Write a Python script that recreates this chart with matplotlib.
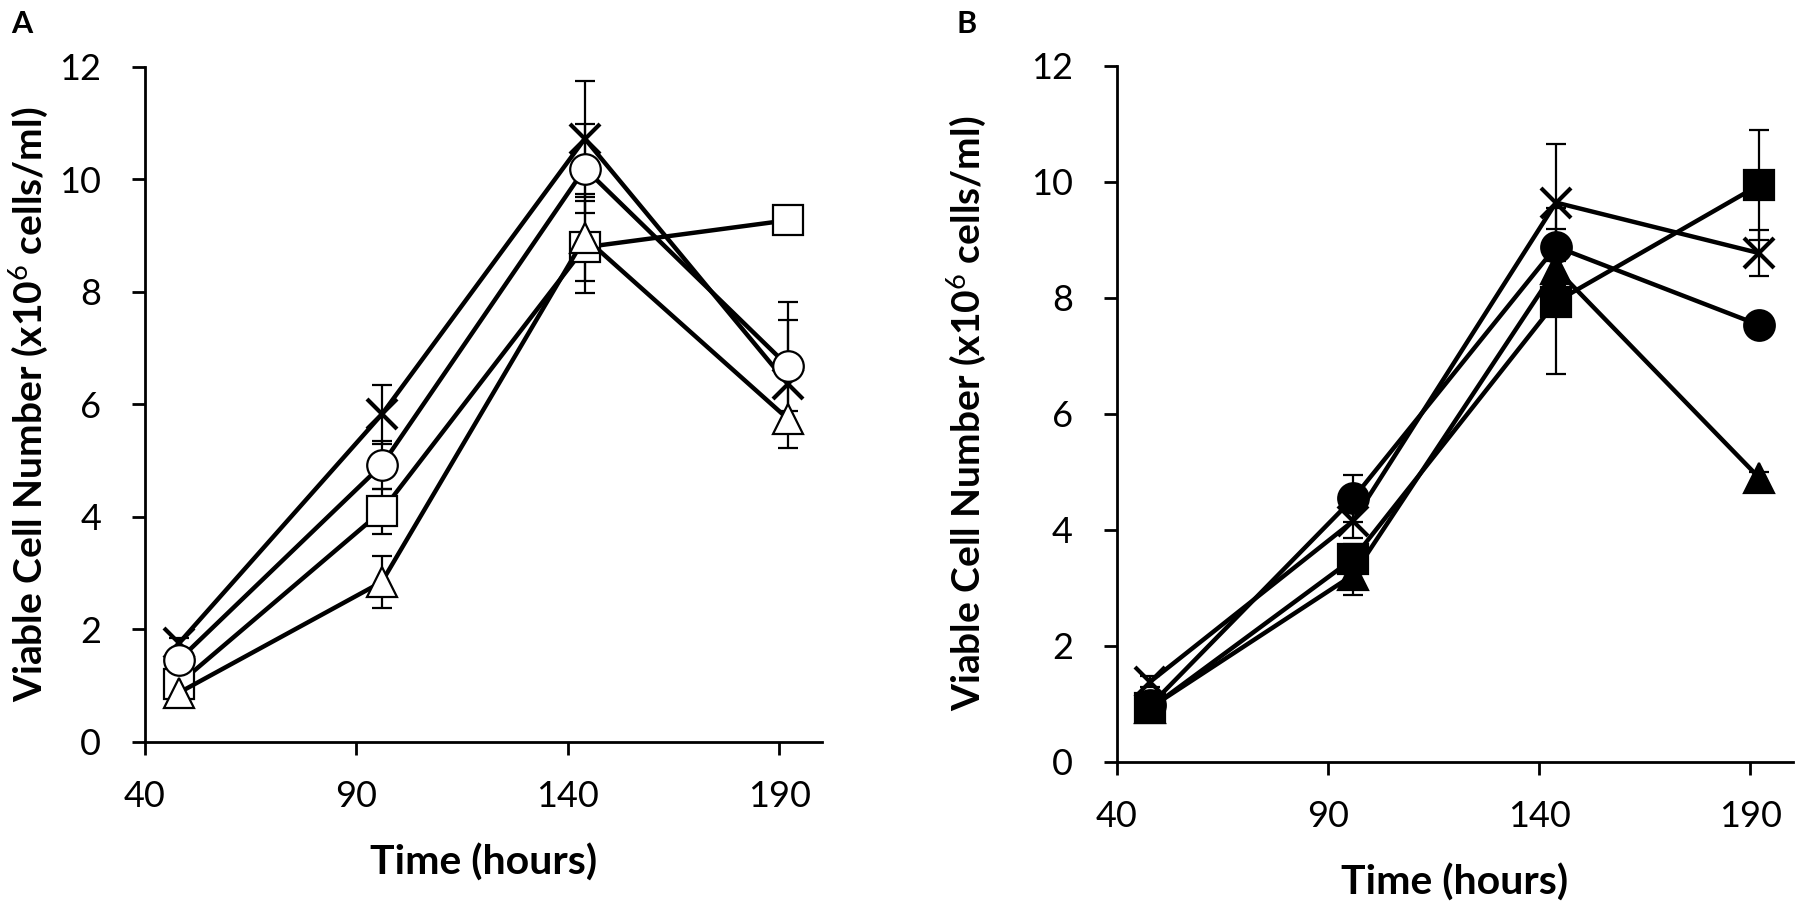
import numpy as np
import matplotlib
matplotlib.use("Agg")
import matplotlib.pyplot as plt

plt.rcParams['font.family'] = ['Lato', 'DejaVu Sans']
plt.rcParams['mathtext.fontset'] = 'custom'
plt.rcParams['mathtext.rm'] = 'Lato'
plt.rcParams['mathtext.bf'] = 'Lato:bold'

# time points (hours)
hours = [48, 96, 144, 192]

# panel A (open markers)
a_cross = [1.75, 5.82, 10.72, 6.36]
a_cross_err = [0.1, 0.52, 1.03, 1.14]
a_circle = [1.45, 4.92, 10.19, 6.68]
a_circle_err = [0.1, 0.42, 0.79, 1.14]
a_square = [1.03, 4.10, 8.79, 9.27]
a_square_err = [0.1, 0.40, 0.82, 0.03]
a_triangle = [0.87, 2.84, 8.96, 5.74]
a_triangle_err = [0.05, 0.47, 0.77, 0.14]

# panel B (filled markers)
b_cross = [1.38, 4.15, 9.64, 8.77]
b_cross_err = [0.1, 0.3, 1.01, 0.4]
b_circle = [0.97, 4.54, 8.88, 7.53]
b_circle_err = [0.1, 0.40, 0.66, 0.1]
b_square = [0.92, 3.50, 7.93, 9.94]
b_square_err = [0.1, 0.26, 1.25, 0.95]
b_triangle = [0.93, 3.22, 8.50, 4.90]
b_triangle_err = [0.05, 0.35, 0.40, 0.1]

xticks = [40, 90, 140, 190]
yticks = [0, 2, 4, 6, 8, 10, 12]

W, H = 1799, 913
fig = plt.figure(figsize=(W / 100, H / 100), dpi=100)
axA = fig.add_axes([145 / W, 1 - 741.7 / H, 676.7 / W, 675 / H])
axB = fig.add_axes([1116.5 / W, 1 - 761.7 / H, 676.2 / W, 696 / H])


def draw(ax, y, e, marker, filled, ms):
    ax.errorbar(hours, y, yerr=e, fmt='none', ecolor='black', elinewidth=1.6,
                capsize=7, capthick=1.6, zorder=2)
    ax.plot(hours, y, color='black', lw=3.2, marker=marker, ms=ms,
            mfc='black' if filled else 'white', mec='black',
            mew=3.0 if marker == 'x' else 1.6, zorder=3)


def style(ax, ylabelpad):
    ax.set_xlim(40, 200)
    ax.set_ylim(0, 12)
    ax.set_xticks(xticks)
    ax.set_yticks(yticks)
    for s in ['top', 'right']:
        ax.spines[s].set_visible(False)
    for s in ['left', 'bottom']:
        ax.spines[s].set_linewidth(2)
    ax.tick_params(direction='out', length=9.5, width=2, labelsize=26)
    ax.tick_params(axis='x', pad=18)
    ax.tick_params(axis='y', pad=22)
    ax.set_xlabel('Time (hours)', fontsize=29.5, fontweight='bold', labelpad=22)
    ax.set_ylabel(r'Viable Cell Number (x10$^{6}$ cells/ml)', fontsize=28,
                  fontweight='bold', labelpad=ylabelpad)


draw(axA, a_cross, a_cross_err, 'x', False, 22)
draw(axA, a_square, a_square_err, 's', False, 21)
draw(axA, a_triangle, a_triangle_err, '^', False, 22)
draw(axA, a_circle, a_circle_err, 'o', False, 22)
style(axA, 6)

draw(axB, b_cross, b_cross_err, 'x', True, 22)
draw(axB, b_triangle, b_triangle_err, '^', True, 22)
draw(axB, b_circle, b_circle_err, 'o', True, 22)
draw(axB, b_square, b_square_err, 's', True, 21)
style(axB, 30)

fig.text(11 / W, 1 - 10 / H, 'A', fontsize=22, fontweight='bold', va='top')
fig.text(957 / W, 1 - 10 / H, 'B', fontsize=22, fontweight='bold', va='top')

fig.savefig('out.png', dpi=100)
